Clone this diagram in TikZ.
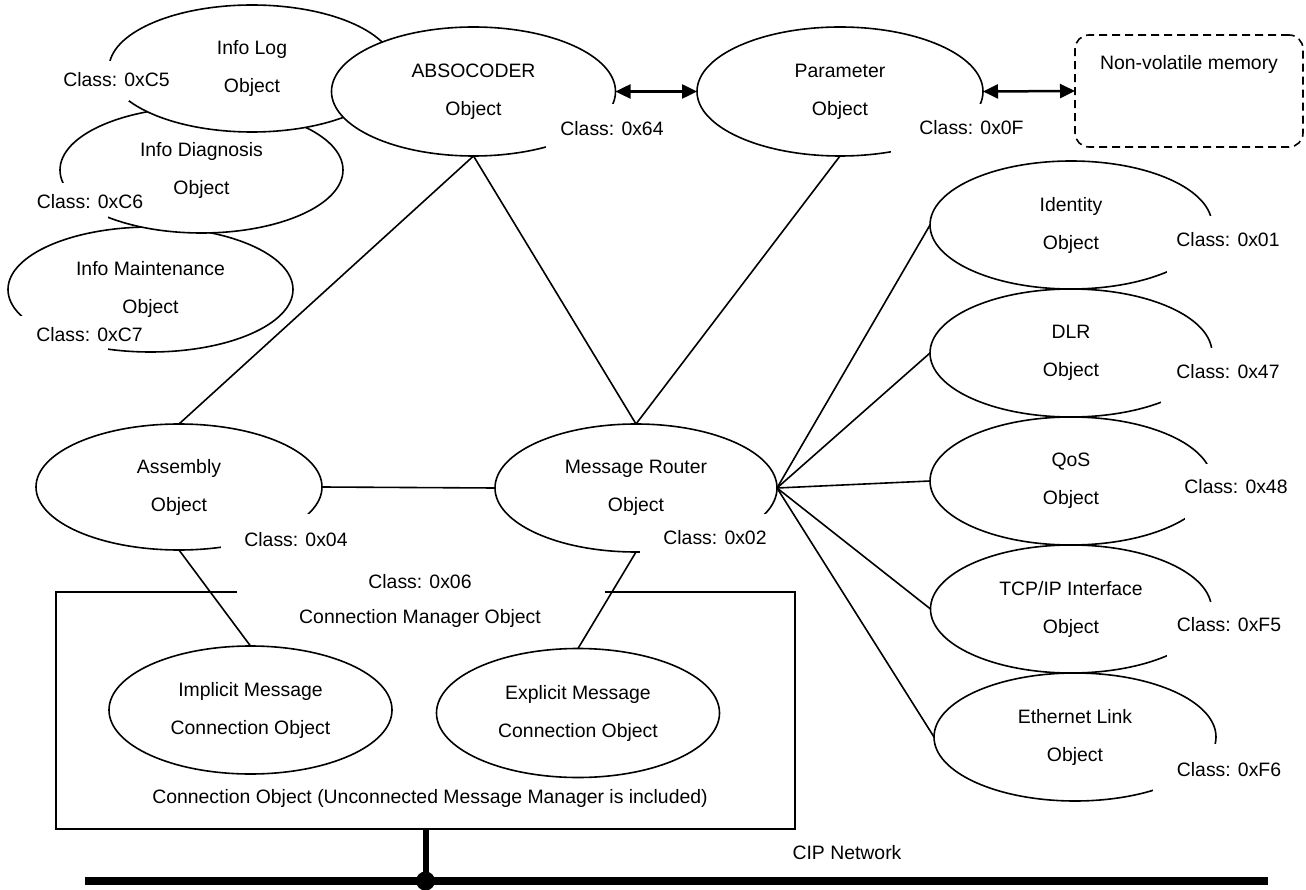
\documentclass[tikz,border=0pt]{standalone}
\usepackage{fontspec}
\setmainfont{Liberation Sans}
\usetikzlibrary{shapes.geometric,arrows.meta,calc}
\begin{document}
\begin{tikzpicture}[x=1pt,y=-1pt,
  txt/.style={font=\fontsize{19.4pt}{38pt}\selectfont},
  obj/.style={ellipse, draw, fill=white, line width=1.6pt, inner sep=0pt, outer sep=0pt, minimum width=284pt, minimum height=128pt, align=center, txt},
  lbl/.style={inner sep=0pt, txt, text height=13.9pt, text depth=0pt},
  conn/.style={line width=1.6pt},
  dbl/.style={<->, >={Triangle[length=15pt,width=14pt]}, line width=2.5pt},
  gapmask/.style={fill=white}]
\useasboundingbox (0,0) rectangle (1306,890);
\fill[white] (0,0) rectangle (1306,890);

% top-left cluster (bottom to top)
\node[obj, minimum width=285pt, minimum height=125pt] (maint) at (150.5,289.5) {Info Maintenance\\Object};
\node[obj, minimum width=283pt, minimum height=126pt] (diag) at (201.5,170) {Info Diagnosis\\Object};
\node[obj, minimum width=286pt, minimum height=127pt] (infolog) at (252,68.5) {Info Log\\Object};
\node[obj, minimum width=284pt, minimum height=129pt] (abso) at (473.5,91.5) {ABSOCODER\\Object};
\node[obj, minimum width=286pt, minimum height=129pt] (param) at (840,91.5) {Parameter\\Object};
\node[draw, dash pattern=on 8pt off 5pt, line width=1.6pt, rounded corners=14pt, minimum width=228pt, minimum height=112pt, inner sep=0pt, outer sep=0pt] (nvm) at (1189,91) {};

% middle
\node[obj, minimum width=286pt, minimum height=126pt] (asm) at (179,487) {Assembly\\Object};
\node[obj, minimum width=282pt, minimum height=128pt] (mr) at (636,488) {Message Router\\Object};

% right column
\node[obj, minimum width=282pt, minimum height=128pt] (ident) at (1071,225) {Identity\\Object};
\node[obj, minimum width=282pt, minimum height=128pt] (dlr) at (1071,353) {DLR\\Object};
\node[obj, minimum width=282pt, minimum height=128pt] (qos) at (1071,481) {QoS\\Object};
\node[obj, minimum width=281pt, minimum height=128pt] (tcp) at (1071,609) {TCP/IP Interface\\Object};
\node[obj, minimum width=282pt, minimum height=128pt] (eth) at (1075,737) {Ethernet Link\\Object};

% connection manager box
\node[minimum width=739pt, minimum height=237pt, inner sep=0pt, outer sep=0pt] (cmbox) at (425.5,710.5) {};
\draw[line width=1.6pt] ($(cmbox.north west)+(181,0)$) -- (cmbox.north west) -- (cmbox.south west) -- (cmbox.south east) -- (cmbox.north east) -- ($(cmbox.north east)+(-190,0)$);
\node[obj, minimum width=283pt, minimum height=128pt] (impl) at (250.5,710) {Implicit Message\\Connection Object};
\node[obj, minimum width=283pt, minimum height=129pt] (expl) at (578,713) {Explicit Message\\Connection Object};

% network
\coordinate (netL) at (85,881);
\coordinate (netR) at (1268,881);
\coordinate (tap) at (425.5,881);
\draw[line width=7.5pt] (netL) -- (netR);
\draw[line width=6pt] (cmbox.south) -- (tap);
\node[circle, fill, minimum size=19pt, inner sep=0pt] (dot) at (tap) {};

% connectors
\draw[dbl] (abso.east) -- (param.west);
\draw[dbl] (param.east) -- (nvm.west);
\draw[conn] (abso.south) -- (asm.north);
\draw[conn] (abso.south) -- (mr.north);
\draw[conn] (param.south) -- (mr.north);
\draw[conn] (asm.east) -- (mr.west);
\draw[conn] (asm.south) -- (impl.north);
\draw[conn] (mr.south) -- (expl.north);
\draw[conn] (mr.east) -- (ident.west);
\draw[conn] (mr.east) -- (dlr.west);
\draw[conn] (mr.east) -- (qos.west);
\draw[conn] (mr.east) -- (tcp.west);
\draw[conn] (mr.east) -- (eth.west);

% gaps in outlines behind class labels
\fill[gapmask] (104,61) rectangle (129,101);
\fill[gapmask] (54,183) rectangle (108,220);
\fill[gapmask] (12,316) rectangle (108,356);
\fill[gapmask] (546,104) rectangle (620,150);
\fill[gapmask] (891,104) rectangle (988,156);
\fill[gapmask] (221,514) rectangle (312,553);
\fill[gapmask] (640,514) rectangle (770,555);
\fill[gapmask] (1167,216) rectangle (1290,274);
\fill[gapmask] (1161,348) rectangle (1290,405);
\fill[gapmask] (1185,464) rectangle (1295,520);
\fill[gapmask] (1167,602) rectangle (1290,659);
\fill[gapmask] (1153,744) rectangle (1290,792);

% labels
\node[lbl] (lc5) at (116.5,80) {Class: 0xC5};
\node[lbl] (lc6) at (90,202) {Class: 0xC6};
\node[lbl] (lc7) at (89.5,335) {Class: 0xC7};
\node[lbl] (l64) at (612,129) {Class: 0x64};
\node[lbl] (l0f) at (971.5,128) {Class: 0x0F};
\node[lbl] (lnvm) at (1189,63) {Non-volatile memory};
\node[lbl] (l01) at (1228,240) {Class: 0x01};
\node[lbl] (l47) at (1228,372) {Class: 0x47};
\node[lbl] (l48) at (1236,487) {Class: 0x48};
\node[lbl] (lf5) at (1229,625) {Class: 0xF5};
\node[lbl] (lf6) at (1229,770) {Class: 0xF6};
\node[lbl] (l04) at (296,540) {Class: 0x04};
\node[lbl] (l02) at (715,538) {Class: 0x02};
\node[lbl] (l06) at (420,582) {Class: 0x06};
\node[lbl] (lcm) at (420,617) {Connection Manager Object};
\node[lbl] (lco) at (430,797) {Connection Object (Unconnected Message Manager is included)};
\node[lbl] (lcip) at (847,853) {CIP Network};
\end{tikzpicture}
\end{document}
